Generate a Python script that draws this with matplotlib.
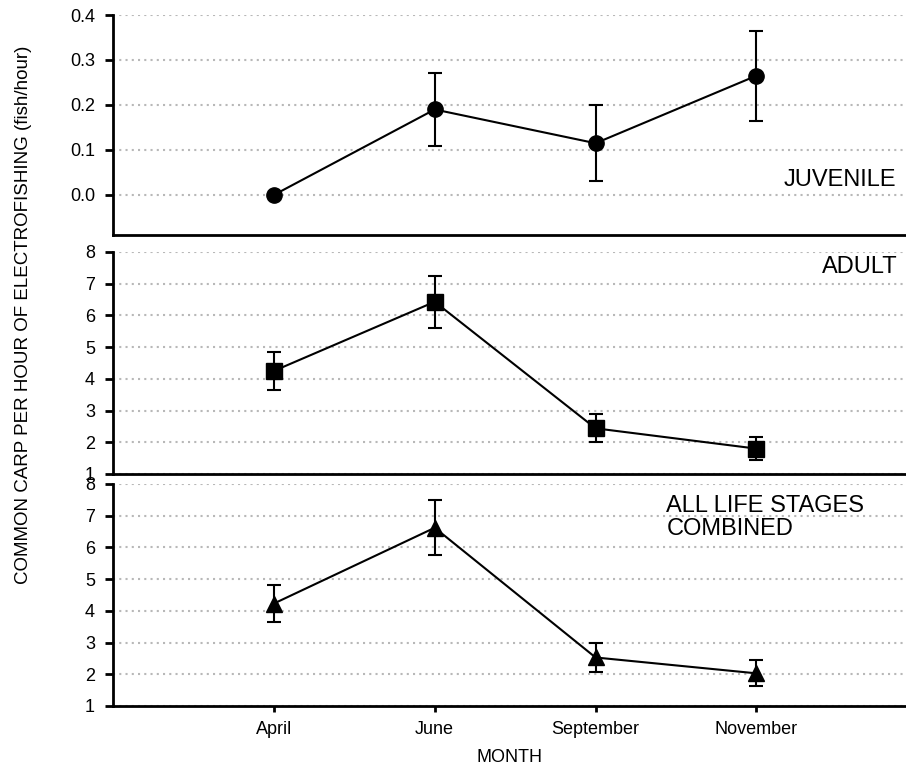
import matplotlib
matplotlib.use("Agg")
from matplotlib import pyplot as plt
from matplotlib.ticker import FormatStrFormatter
import numpy as np

plt.rcParams["font.family"] = ["Liberation Sans", "DejaVu Sans"]

MONTHS = ["April", "June", "September", "November"]
X = np.arange(1, len(MONTHS) + 1)

juvenile_mean = [0.0, 0.19, 0.115, 0.265]
juvenile_se = [0.0, 0.082, 0.085, 0.10]
adult_mean = [4.25, 6.43, 2.44, 1.80]
adult_se = [0.59, 0.82, 0.44, 0.37]
combined_mean = [4.23, 6.62, 2.53, 2.03]
combined_se = [0.59, 0.87, 0.47, 0.41]

W, H = 906, 770
fig = plt.figure(figsize=(W / 100, H / 100), dpi=100)

def px_axes(top, bottom, left=113):
    return fig.add_axes([left / W, 1 - bottom / H, 1 - left / W, (bottom - top) / H])

ax_juv = px_axes(15, 235)
ax_adult = px_axes(252, 474)
ax_all = px_axes(484, 706)

panels = [
    (ax_juv, juvenile_mean, juvenile_se, "o", (-0.089, 0.4), [0.0, 0.1, 0.2, 0.3, 0.4]),
    (ax_adult, adult_mean, adult_se, "s", (1, 8), range(1, 9)),
    (ax_all, combined_mean, combined_se, "^", (1, 8), range(1, 9)),
]

for ax, mean, se, marker, ylim, yticks in panels:
    ax.errorbar(X, mean, yerr=se, color="black", linewidth=1.5, elinewidth=1.5,
                capsize=5, capthick=1.5, marker=marker, markersize=11, zorder=3)
    ax.set_xlim(0, 4.93)
    ax.set_ylim(*ylim)
    ax.set_yticks(list(yticks))
    ax.yaxis.grid(True, linestyle=(0, (1, 2)), color="#b8b8b8", linewidth=1.5)
    ax.set_axisbelow(True)
    for side in ("top", "right"):
        ax.spines[side].set_visible(False)
    for side in ("left", "bottom"):
        ax.spines[side].set_linewidth(2)
    ax.tick_params(axis="y", direction="out", length=6, width=2, labelsize=13, pad=7)
    ax.tick_params(axis="x", bottom=False, labelbottom=False)
    ax.patch.set_alpha(0)

ax_juv.yaxis.set_major_formatter(FormatStrFormatter("%.1f"))

ax_all.set_xticks(X)
ax_all.set_xticklabels(MONTHS)
ax_all.tick_params(axis="x", bottom=True, labelbottom=True, direction="out",
                   length=4, width=2, labelsize=13, pad=7)
ax_all.set_xlabel("MONTH", fontsize=13, labelpad=8)

ax_juv.text(4.87, 0.033, "JUVENILE", ha="right", va="center", fontsize=17)
ax_adult.text(4.88, 7.53, "ADULT", ha="right", va="center", fontsize=17)
ax_all.text(3.44, 6.95, "ALL LIFE STAGES\nCOMBINED", ha="left", va="center",
            fontsize=17, linespacing=1.05)

fig.text(24 / W, 1 - 315 / H, "COMMON CARP PER HOUR OF ELECTROFISHING (fish/hour)",
         rotation=90, ha="center", va="center", fontsize=13.5)

fig.savefig("out.png", dpi=100)
